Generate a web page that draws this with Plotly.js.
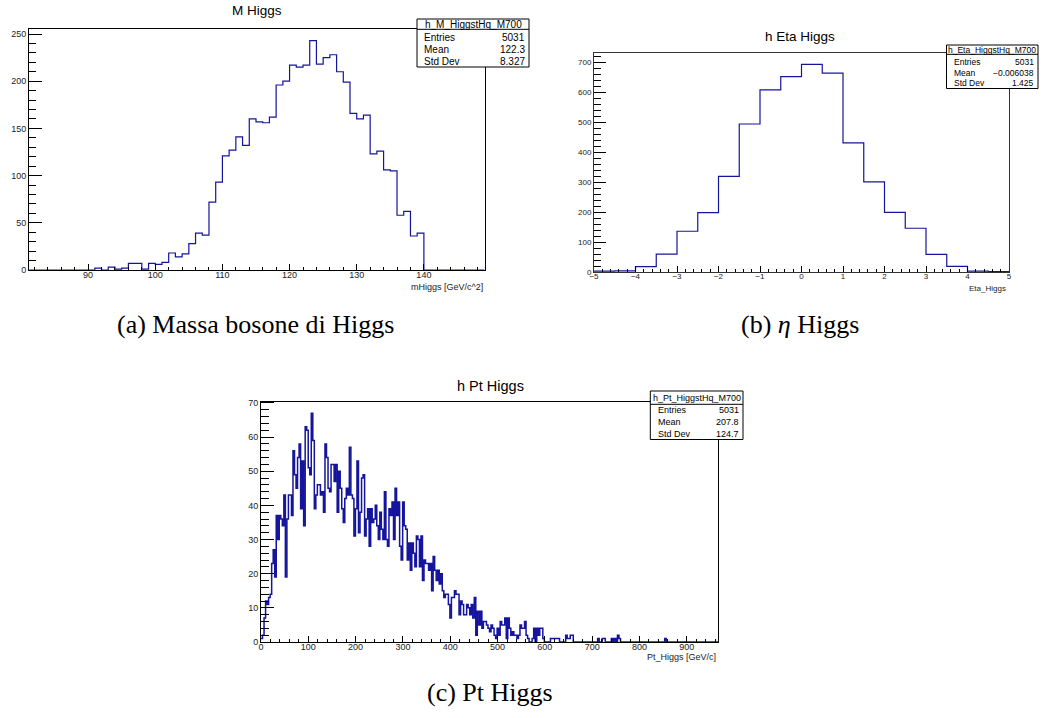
<!DOCTYPE html>
<html><head><meta charset="utf-8">
<script src="https://cdn.plot.ly/plotly-3.0.1.min.js"></script>
<style>html,body{margin:0;padding:0;background:#fff;}#plot{width:1051px;height:718px;}</style>
</head><body><div id="plot"></div>
<script>
// ---------- data ----------
const massBinLow = 81, massBinWidth = 1;
const massCounts = [0,0,0,0,0,0,0,0,0,0,
  2,0,3,1,2,7,7,1,7,6,
  8,18,14,17,28,39,37,72,93,121,
  127,141,132,160,157,156,162,196,200,217,
  215,217,243,218,225,228,210,199,166,160,
  164,123,126,106,105,58,62,36,39,0,
  0,0,0,0,0,0,0,0];
const massStatValues = ['5031','122.3','8.327'];

const etaBinLow = -5, etaBinWidth = 0.5;
const etaCounts = [4,5,19,61,137,199,320,495,609,653,694,665,432,302,200,147,60,20,4,2];
const etaStatValues = ['5031','\u22120.006038','1.425'];

const ptBinLow = 0, ptBinWidth = 3.22;
const ptCounts = [
  1,2,7,12,11,13,14,23,27,19, 37,30,37,36,34,43,19,36,43,43,
  37,56,49,45,54,58,39,53,34,63, 62,51,49,67,
  59,39,43,46,46,43,44,38,58,54, 45,44,52,52,47,52,38,50,45,39, 35,42,45,43,57,
  43,42,31,39,53,32,38,48,49,31, 36,39,28,39,35,36,40,34,30,38, 33,30,44,30,28,39,37,41,30,
  45,37,41,28,24,
  41,34,33,24,29,21,29,26,22,31, 30,22,31,18,24,23,23,21,23,15, 25,21,18,21,17,20,15,13,14,14, 11,7,13,13,
  15,14,14,8,12,11,8,8,11,10, 8,11,7,13,2,9,5,9,4,6, 6,5,4,3,5,4,2,1,4,2,
  6,5,5,7,1,7,4,2,3,2, 2,1,2,5,4,4,6,2,1,0, 0,1,4,0,4,2,4,4,1,
  0,0,0,0, 1,1,1,1,1,1, 0,0,0,0, 2,1,1,2,2,
  0,0,0,0,0,0,0,0,0,0,0,0,0,0,0,0,
  1,0,0,1,1,0,0,0,0,1,0,1,0,2,1,
  0,0,0,0,0,0,0,0,0,0,0,0,0,0,0,0,0,0,0,0,0,0,0,0,0,0,0,0,0,
  1,
  0,0,0,0,0,0,0,0,0,0,0,0,0,0,0,0,0,0,0,0,0,0,0,0,0,0,0,0,0,0,0,0,0,0];
const ptStatValues = ['5031','207.8','124.7'];

const statLabels = ['Entries','Mean','Std Dev'];
const histNames = ['h_M_HiggstHq_M700','h_Eta_HiggstHq_M700','h_Pt_HiggstHq_M700'];
const plotTitles = ['M Higgs','h Eta Higgs','h Pt Higgs'];
const axisTitles = ['mHiggs [GeV/c^2]','Eta_Higgs','Pt_Higgs [GeV/c]'];
const captions = ['(a) Massa bosone di Higgs','(b) <i>\u03b7</i> Higgs','(c) Pt Higgs'];

// ---------- layout helpers ----------
const W = 1051, H = 718;
const X = p => p / W, Y = p => 1 - p / H;
const SANS = 'Liberation Sans, Arial, Helvetica, sans-serif';
const SERIF = 'Liberation Serif, Times New Roman, serif';
const LINE = '#14149c';

function stepTrace(lo, w, counts, xa, ya, lw) {
  const x = [], y = [];
  for (let i = 0; i < counts.length; i++) { x.push(lo + i * w); y.push(counts[i]); }
  x.push(lo + counts.length * w); y.push(counts[counts.length - 1]);
  return {type:'scatter', mode:'lines', x, y, xaxis:xa, yaxis:ya, hoverinfo:'skip',
          line:{shape:'hv', color:LINE, width:lw}, showlegend:false};
}

const panels = [
  {l:29, r:485, t:29, b:270, xr:[81.2,149.1], yr:[0,255.3], xd:10, xm:2, yd:50, ym:10,
   tf:9, xso:-4, box:{l:417,r:529,t:19,b:67,h:29.3,rows:[37.7,49.7,61.5],fs:10,lx:422,vx:527},
   title:{x:257,y:11,fs:13.5}, at:{x:485,y:287.5,fs:9}, cap:{x:255,y:324}, ytl:13, ymtl:7, frame:'#000'},
  {l:594, r:1009, t:53.3, b:272.3, xr:[-5,5], yr:[0,731], xd:1, xm:0.2, yd:100, ym:20,
   tf:8, xso:-4, box:{l:946.5,r:1038,t:45,b:88.5,h:54.3,rows:[62.3,72.5,83.3],fs:8.5,lx:951.5,vx:1036},
   title:{x:800,y:36.5,fs:13.5}, at:{x:1008,y:289,fs:8}, cap:{x:800,y:324}, ytl:12, ymtl:7, frame:'#333'},
  {l:261, r:718, t:401.7, b:642, xr:[0,966], yr:[0,70.35], xd:100, xm:20, yd:10, ym:2,
   tf:9, xso:-4, box:{l:650.3,r:743,t:391,b:439.5,h:404.3,rows:[410.2,422,434.3],fs:9,lx:656,vx:741},
   title:{x:490,y:386,fs:14.5}, at:{x:718,y:657,fs:9}, cap:{x:490,y:692}, ytl:13, ymtl:8, frame:'#000'}
];

const traces = [
  stepTrace(massBinLow, massBinWidth, massCounts, 'x', 'y', 1.2),
  stepTrace(etaBinLow, etaBinWidth, etaCounts, 'x2', 'y2', 1.2),
  stepTrace(ptBinLow, ptBinWidth, ptCounts, 'x3', 'y3', 1.5)
];
const statValues = [massStatValues, etaStatValues, ptStatValues];

const layout = {
  width: W, height: H, margin:{l:0,r:0,t:0,b:0}, paper_bgcolor:'#fff', plot_bgcolor:'#fff',
  showlegend:false, shapes:[], annotations:[]
};

panels.forEach((p, i) => {
  const sx = i === 0 ? '' : String(i + 1);
  const ax = {
    domain:[X(p.l), X(p.r)], range:p.xr, anchor:'y' + sx,
    showline:true, mirror:true, linecolor:p.frame, linewidth:1,
    showgrid:false, zeroline:false, ticks:'inside', ticklen:6, tickcolor:'#000', tickwidth:1,
    tickmode:'linear', tick0:0, dtick:p.xd, ticklabelstandoff:p.xso,
    minor:{ticks:'inside', ticklen:3, tickcolor:'#000', dtick:p.xm, tick0:0, showgrid:false},
    tickfont:{family:SANS, size:p.tf, color:'#222'}, fixedrange:true
  };
  const ay = {
    domain:[Y(p.b), Y(p.t)], range:p.yr, anchor:'x' + sx,
    showline:true, mirror:true, linecolor:p.frame, linewidth:1,
    showgrid:false, zeroline:false, ticks:'inside', ticklen:p.ytl, tickcolor:'#000', tickwidth:1,
    tickmode:'linear', tick0:0, dtick:p.yd,
    minor:{ticks:'inside', ticklen:p.ymtl, tickcolor:'#000', dtick:p.ym, tick0:0, showgrid:false},
    tickfont:{family:SANS, size:p.tf, color:'#222'}, fixedrange:true
  };
  layout['xaxis' + sx] = ax;
  layout['yaxis' + sx] = ay;

  // stats box
  const b = p.box;
  layout.shapes.push({type:'rect', xref:'paper', yref:'paper', x0:X(b.l), x1:X(b.r), y0:Y(b.b), y1:Y(b.t),
    line:{color:'#000', width:1}, fillcolor:'#fff', layer:'above'});
  layout.shapes.push({type:'line', xref:'paper', yref:'paper', x0:X(b.l), x1:X(b.r), y0:Y(b.h), y1:Y(b.h),
    line:{color:'#000', width:1}, layer:'above'});
  layout.annotations.push({xref:'paper', yref:'paper', x:X((b.l + b.r) / 2), y:Y((b.t + b.h) / 2),
    text:histNames[i], showarrow:false, xanchor:'center', yanchor:'middle',
    font:{family:SANS, size:b.fs, color:'#000'}});
  statLabels.forEach((lab, k) => {
    layout.annotations.push({xref:'paper', yref:'paper', x:X(b.lx), y:Y(b.rows[k]), text:lab,
      showarrow:false, xanchor:'left', yanchor:'middle', font:{family:SANS, size:b.fs, color:'#000'}});
    layout.annotations.push({xref:'paper', yref:'paper', x:X(b.vx), y:Y(b.rows[k]), text:statValues[i][k],
      showarrow:false, xanchor:'right', yanchor:'middle', font:{family:SANS, size:b.fs, color:'#000'}});
  });

  // plot title
  layout.annotations.push({xref:'paper', yref:'paper', x:X(p.title.x), y:Y(p.title.y), text:plotTitles[i],
    showarrow:false, xanchor:'center', yanchor:'middle', font:{family:SANS, size:p.title.fs, color:'#000'}});
  // axis title
  layout.annotations.push({xref:'paper', yref:'paper', x:X(p.at.x), y:Y(p.at.y), text:axisTitles[i],
    showarrow:false, xanchor:'right', yanchor:'middle', font:{family:SANS, size:p.at.fs, color:'#222'}});
  // caption
  layout.annotations.push({xref:'paper', yref:'paper', x:X(p.cap.x), y:Y(p.cap.y), text:captions[i],
    showarrow:false, xanchor:'center', yanchor:'middle', font:{family:SERIF, size:26, color:'#000'}});
});

Plotly.newPlot('plot', traces, layout, {staticPlot:true, displayModeBar:false});
</script>
</body></html>
